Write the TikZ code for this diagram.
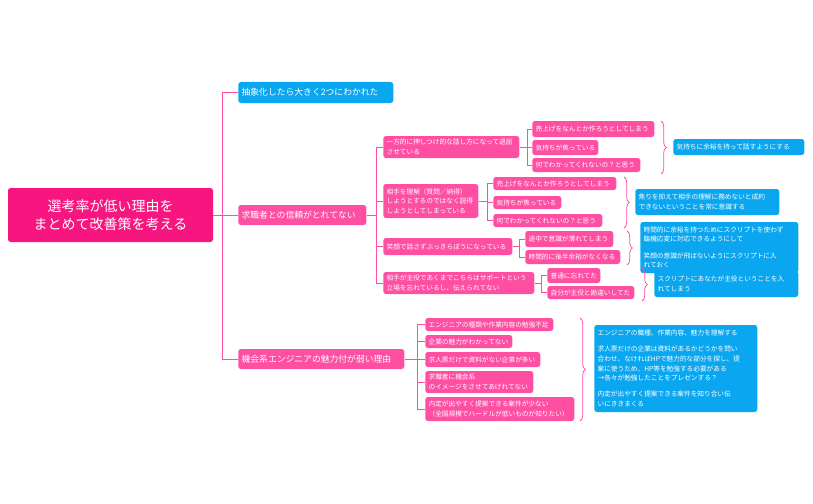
\documentclass[tikz,border=0pt]{standalone}
\usepackage{fontspec}
\setmainfont{Noto Sans CJK JP}
\usetikzlibrary{decorations.pathreplacing, calc}
\definecolor{pinkc}{HTML}{FF4FA3}
\definecolor{rootc}{HTML}{F7167F}
\definecolor{bluec}{HTML}{0AA7F0}
\tikzset{
    box/.style={anchor=west, rounded corners=2pt, text=white, align=left, inner sep=2.5pt, inner ysep=1.5pt},
    pk/.style={box, fill=pinkc, font=\fontsize{5}{7.2}\selectfont},
    bl/.style={box, fill=bluec, font=\fontsize{5}{7.2}\selectfont},
    link/.style={draw=pinkc, line width=0.6pt},
    brc/.style={draw=pinkc, line width=0.6pt, decorate, decoration={brace, amplitude=4pt}},
}
% box from left x1 to right x2, between y1 and y2 (pixels)
\newcommand{\bx}[7][pk]{\node[#1, text width={(#5-#3)*0.75pt-5pt}, minimum height={(#6-#4)*0.75pt}] (#2) at (#3,{(#4+#6)/2}) {#7};}
\begin{document}
\begin{tikzpicture}[x=0.75pt, y=-0.75pt]
    \useasboundingbox (0,0) rectangle (813,503);
    % root and first level
    \node[rounded corners=2pt, fill=rootc, text=white, align=center, minimum width=205*0.75pt, minimum height=54*0.75pt,
          font=\fontsize{10.5}{14}\selectfont] (root) at (110.5,215) {選考率が低い理由を\\まとめて改善策を考える};
    \bx[bl]{abs}{238}{82}{393}{103}{\fontsize{6.6}{8}\selectfont 抽象化したら大きく2つにわかれた}
    \bx{trust}{238}{205}{366}{225}{\fontsize{6.6}{8}\selectfont 求職者との信頼がとれてない}
    \bx{eng}{238}{349}{404}{369}{\fontsize{6.6}{8}\selectfont 機会系エンジニアの魅力付が弱い理由}
    \coordinate (t0) at (222,0);
    \draw[link] (root.east) -- (t0 |- root.east);
    \draw[link] (t0 |- abs.west) -- (t0 |- eng.west);
    \foreach \n in {abs, trust, eng} \draw[link] (t0 |- \n.west) -- (\n.west);

    % trust branch
    \bx{ta}{383}{136}{519}{158}{一方的に押しつけ的な話し方になって退屈\\させている}
    \bx{tb}{383}{184}{478}{218}{相手を理解（質問／納得）\\しようとするのではなく説得\\しようとしてしまっている}
    \bx{tc}{383}{238}{512}{255}{笑顔で話さずぶっきらぼうになっている}
    \bx{td}{383}{272}{534}{294}{相手が主役であくまでこちらはサポートという\\立場を忘れているし、伝えられてない}
    \coordinate (t1) at (376,0);
    \draw[link] (trust.east) -- (t1 |- trust.east);
    \draw[link] (t1 |- ta.west) -- (t1 |- td.west);
    \foreach \n in {ta, tb, tc, td} \draw[link] (t1 |- \n.west) -- (\n.west);

    \bx{ta1}{532}{121}{654}{137}{売上げをなんとか作ろうとしてしまう}
    \bx{ta2}{532}{140}{598}{155}{気持ちが焦っている}
    \bx{ta3}{532}{158}{640}{172}{何でわかってくれないの？と思う}
    \bx{tb1}{493}{177}{616}{190}{売上げをなんとか作ろうとしてしまう}
    \bx{tb2}{493}{196}{561}{209}{気持ちが焦っている}
    \bx{tb3}{493}{214}{602}{227}{何でわかってくれないの？と思う}
    \bx{tc1}{525}{231}{613}{247}{途中で意識が薄れてしまう}
    \bx{tc2}{525}{250}{620}{264}{時間的に後半余裕がなくなる}
    \bx{td1}{547}{268}{600}{283}{普通に忘れてた}
    \bx{td2}{547}{286}{634}{299}{自分が主役と勘違いしてた}
    \foreach \p/\x/\m in {ta/527/3, tb/487/3, tc/519/2, td/541/2} {
        \coordinate (j) at (\x,0);
        \draw[link] (\p.east) -- (j |- \p.east);
        \draw[link] (j |- \p1.west) -- (j |- \p\m.west);
        \foreach \k in {1,...,\m} \draw[link] (j |- \p\k.west) -- (\p\k.west);
    }

    % advice
    \bx[bl]{sa}{673}{139}{804}{155}{気持ちに余裕を持って話すようにする}
    \bx[bl]{sb}{635}{189}{779}{215}{焦りを抑えて相手の理解に務めないと成約\\できないということを常に意識する}
    \bx[bl]{sd}{654}{271}{798}{297}{スクリプトにあなたが主役ということを入\\れてしまう}
    \bx[bl]{sc}{640}{222}{798}{273}{時間的に余裕を持つためにスクリプトを使わず\\臨機応変に対応できるようにして\\[5pt]笑顔の意識が飛ばないようにスクリプトに入\\れておく}
    \draw[brc] (661,121) -- (661,174);
    \draw[brc] (624,177) -- (624,228);
    \draw[brc] (627,231) -- (627,265);
    \draw[brc] (642,268) -- (642,301);

    % engineer branch
    \bx{e1}{425}{318}{553}{331}{エンジニアの種類や作業内容の勉強不足}
    \bx{e2}{425}{335}{512}{348}{企業の魅力がわかってない}
    \bx{e3}{425}{352}{540}{367}{求人票だけで資料がない企業が多い}
    \bx{e4}{425}{371}{533}{393}{求職者に機会系\\のイメージをさせてあげれてない}
    \bx{e5}{425}{397}{574}{421}{内定が出やすく提案できる案件が少ない\\（全国規模でハードルが低いものが知りたい）}
    \coordinate (t2) at (417,0);
    \draw[link] (eng.east) -- (t2 |- eng.east);
    \draw[link] (t2 |- e1.west) -- (t2 |- e5.west);
    \foreach \n in {e1, e2, e3, e4, e5} \draw[link] (t2 |- \n.west) -- (\n.west);
    \draw[brc] (580,318) -- (580,421);
    \bx[bl]{se}{594}{325}{757}{412}{エンジニアの職種、作業内容、魅力を理解する\\[5pt]求人票だけの企業は資料があるかどうかを問い\\合わせ、なければHPで魅力的な部分を探し、提\\案に使うため、HP等を勉強する必要がある\\→各々が勉強したことをプレゼンする？\\[5pt]内定が出やすく提案できる案件を知り合い伝\\いにききまくる}
\end{tikzpicture}
\end{document}
